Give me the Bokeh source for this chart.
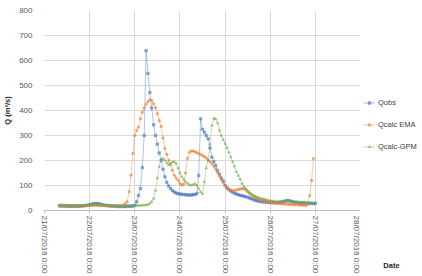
import math
from bokeh.plotting import figure
from bokeh.layouts import row
from bokeh.models import (FixedTicker, Legend, LegendItem, Range1d)
from bokeh.embed import file_html
from bokeh.resources import INLINE

# ---- data (hours since 21/07/2016 0:00) ----
tick_hours = [0, 24, 48, 72, 96, 120, 144, 168]
tick_labels = ["21/07/2016 0:00", "22/07/2016 0:00", "23/07/2016 0:00",
               "24/07/2016 0:00", "25/07/2016 0:00", "26/07/2016 0:00",
               "27/07/2016 0:00", "28/07/2016 0:00"]
y_ticks = [0, 100, 200, 300, 400, 500, 600, 700, 800]

hours_obs = list(range(8, 145))
qobs = [18, 18, 18, 18, 17, 17, 17, 17, 17, 17, 17, 18, 18, 19, 20, 21,
        23, 25, 27, 28, 28, 27, 25, 23, 21,
        20, 19, 18, 18, 17, 17, 16, 16, 16, 16, 16, 17, 17, 17, 18,
        20, 35, 60, 88, 172, 300, 640, 548, 472, 410, 343, 300,
        265, 230, 200, 165, 135, 113, 98, 88, 80, 74, 70, 67,
        66, 65, 64, 63, 62, 62, 62, 63, 64, 68,
        140, 367, 325, 313, 300, 287, 250, 213, 195, 180, 160, 145, 130, 118,
        100, 90, 83, 78, 73, 69, 66, 63, 61, 59, 57, 55,
        53, 50, 47, 44, 41, 39, 37, 36, 35, 34, 33, 33,
        32, 32, 31, 31, 32, 33, 34, 36, 38, 40, 39, 37,
        35, 33, 32, 31, 30, 30, 30, 29, 29, 28, 28, 28, 28]

hours_ema = list(range(8, 144))
qema = [20, 20, 20, 19, 19, 19, 19, 19, 19, 19, 19, 19, 19, 19, 20, 20,
        20, 20, 20, 21, 21, 20, 20, 20, 19, 19, 19, 19, 19, 19, 19, 19, 19, 19,
        22, 28,
        35, 75, 141, 228, 300, 320, 333, 367, 393, 410, 425, 435, 443, 440,
        427, 411, 387, 360, 336, 290, 248, 225, 200, 184, 161, 141, 130, 121,
        108, 101, 105, 150, 208, 232, 238,
        238, 235, 231, 228, 224, 220, 215, 210, 202, 195, 187, 177, 165, 152,
        138, 124, 112, 100, 92, 86, 82, 80, 80, 82, 84, 86, 87, 87, 82, 74,
        68, 62, 57, 52, 48, 45, 42, 40, 38, 36, 34, 32,
        31, 30, 29, 28, 27, 27, 26, 26, 25, 25, 24, 24, 23, 23, 22, 22, 21, 21, 20,
        25, 60, 120, 208]

hours_gpm = list(range(8, 145))
qgpm = [22, 22, 21, 21, 21, 21, 21, 21, 20, 20, 20, 20, 20, 20, 21, 21,
        22, 22, 23, 23, 23, 22, 22, 21, 21, 21, 20, 20, 20, 20, 20, 19,
        19, 19, 19, 19, 19, 19, 20, 20,
        20, 20, 20, 20, 21, 21, 22, 24, 28, 35, 48,
        80, 130, 175, 205, 208, 201, 190, 182, 188, 194, 195, 188, 170,
        150, 135, 124, 115, 108, 103, 101, 103, 107, 100, 88, 74, 66,
        115, 170, 200, 265, 340, 368, 366, 350, 320, 300, 283, 267, 251, 233,
        214, 195, 177, 155, 140, 125, 108, 96, 88, 80, 72, 66, 61, 57, 54, 51,
        49, 47, 45, 43, 41, 39,
        38, 37, 36, 35, 35, 35, 35, 36, 37, 38, 37, 36, 35, 35, 34, 34,
        33, 33, 32, 32, 32, 31, 31, 31]

series_names = ["Qobs", "Qcalc EMA", "Qcalc-GPM"]
x_title = "Date"
y_title = "Q (m³/s)"
FONT = "Liberation Sans"
colors = ["#4472C4", "#ED7D31", "#70AD47"]
markers = ["square", "circle", "triangle"]

# ---------------- main chart ----------------
p = figure(width=360, height=276, output_backend="svg", toolbar_location=None,
           x_range=Range1d(0, 168), y_range=Range1d(0, 800),
           min_border_left=37, min_border_right=0, min_border_top=10,
           min_border_bottom=66)
p.outline_line_color = None

p.xgrid.ticker = FixedTicker(ticks=tick_hours)
p.ygrid.ticker = FixedTicker(ticks=y_ticks)
for g in (p.xgrid, p.ygrid):
    g.grid_line_color = "#D9D9D9"
    g.grid_line_width = 1

xa = p.xaxis[0]
xa.ticker = FixedTicker(ticks=tick_hours)
xa.major_label_overrides = {h: lab for h, lab in zip(tick_hours, tick_labels)}
xa.major_label_orientation = -math.pi / 2
xa.major_label_text_font = FONT
xa.major_label_text_font_size = "8px"
xa.major_label_text_color = "#595959"
xa.axis_line_color = "#BFBFBF"
xa.major_tick_line_color = "#BFBFBF"
xa.major_tick_in = 0
xa.major_tick_out = 3
xa.minor_tick_line_color = None
xa.major_label_standoff = 2

ya = p.yaxis[0]
ya.ticker = FixedTicker(ticks=y_ticks)
ya.major_label_text_font = FONT
ya.major_label_text_font_size = "8px"
ya.major_label_text_color = "#595959"
ya.axis_line_color = None
ya.major_tick_line_color = None
ya.minor_tick_line_color = None
ya.major_label_standoff = 6
ya.axis_label = y_title
ya.axis_label_text_font = FONT
ya.axis_label_text_font_size = "7.5px"
ya.axis_label_text_font_style = "bold"
ya.axis_label_text_color = "#262626"
ya.axis_label_standoff = 4

data = [(hours_obs, qobs), (hours_ema, qema), (hours_gpm, qgpm)]
for (xs, ys), c, mk in zip(data, colors, markers):
    p.line(xs, ys, line_color=c, line_width=0.7, line_alpha=0.6)
    p.scatter(xs, ys, marker=mk, size=2.6, fill_color=c, line_color=c,
              fill_alpha=0.6, line_alpha=0.7, line_width=0.5)

# ---------------- right panel: legend + x title ----------------
q = figure(width=62, height=276, output_backend="svg", toolbar_location=None,
           x_range=Range1d(0, 1), y_range=Range1d(0, 1),
           min_border=0, min_border_left=0, min_border_right=0,
           min_border_top=10, min_border_bottom=66)
q.yaxis.visible = False
q.grid.visible = False
q.outline_line_color = None
qa = q.xaxis[0]
qa.ticker = FixedTicker(ticks=[])
qa.axis_line_color = None
qa.major_tick_line_color = None
qa.minor_tick_line_color = None
qa.major_label_text_alpha = 0
qa.axis_label = x_title
qa.axis_label_text_font = FONT
qa.axis_label_text_font_size = "7.5px"
qa.axis_label_text_font_style = "bold"
qa.axis_label_text_color = "#262626"
qa.axis_label_standoff = 50

# legend swatches: renderers whose single point lies outside the panel's range
items = []
for c, mk, name in zip(colors, markers, series_names):
    lr = q.line([-5], [-5], line_color=c, line_width=0.7, line_alpha=0.6)
    sr = q.scatter([-5], [-5], marker=mk, size=2.6, fill_color=c, line_color=c,
                   fill_alpha=0.6, line_alpha=0.7, line_width=0.5)
    items.append(LegendItem(label=name, renderers=[lr, sr]))

legend = Legend(items=items, location=(3, 59), orientation="vertical",
                glyph_width=12, glyph_height=7, label_height=7, spacing=13,
                label_standoff=3,
                padding=0, margin=0, border_line_color=None,
                background_fill_alpha=0,
                label_text_font=FONT, label_text_font_size="7.5px",
                label_text_color="#404040")
q.add_layout(legend, "center")

layout = row(p, q)
open("out.html", "w").write(file_html(layout, INLINE))
